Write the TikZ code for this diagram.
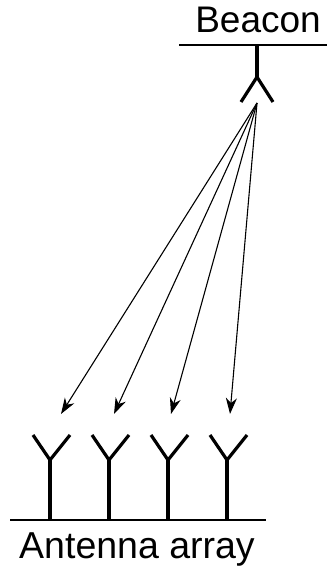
\documentclass[tikz,border=0pt]{standalone}
\usepackage{fontspec}
\usepackage{tikz}
\setmainfont{Liberation Sans}
\usetikzlibrary{calc,arrows.meta,positioning}

\begin{document}
\begin{tikzpicture}[x=1pt,y=1pt,
    antennaline/.style={black, line width=3.2pt},
    groundline/.style={black, line width=2.6pt},
    rayline/.style={black, line width=1.1pt, -{Stealth[length=16pt,width=11pt,inset=5pt]}},
    labeltext/.style={inner sep=0pt, anchor=base}]

    \useasboundingbox (0,0) rectangle (327,567);

    % Beacon
    \coordinate (beaconL) at (179,522);
    \coordinate (beaconR) at (327,522);
    \coordinate (beaconTop) at (257,522);
    \coordinate (beaconFork) at (257,490);
    \coordinate (beaconTip) at (257,464);
    \draw[groundline] (beaconL) -- (beaconR);
    \draw[antennaline] (beaconTop) -- (beaconFork);
    \draw[antennaline] (241,465) -- (beaconFork) -- (273,465);
    \node[labeltext, font=\fontsize{37}{37}\selectfont] (beaconLabel) at (258,534) {Beacon};

    % Antenna array
    \coordinate (arrayL) at (10,47);
    \coordinate (arrayR) at (266,47);
    \draw[groundline] (arrayL) -- (arrayR);
    \foreach \name/\xa/\tipx in {a/50/61,b/109/114,c/168/171,d/227/230}{
        \draw[antennaline] (\xa,47) -- (\xa,107);
        \draw[antennaline] (\xa-17,132) -- (\xa,107) -- (\xa+20,132);
        \coordinate (tip\name) at (\tipx,153);
        \draw[rayline] (beaconTip) -- (tip\name);
    }
    \node[labeltext, font=\fontsize{37.5}{37.5}\selectfont] (arrayLabel) at (137,9) {Antenna array};

\end{tikzpicture}
\end{document}
